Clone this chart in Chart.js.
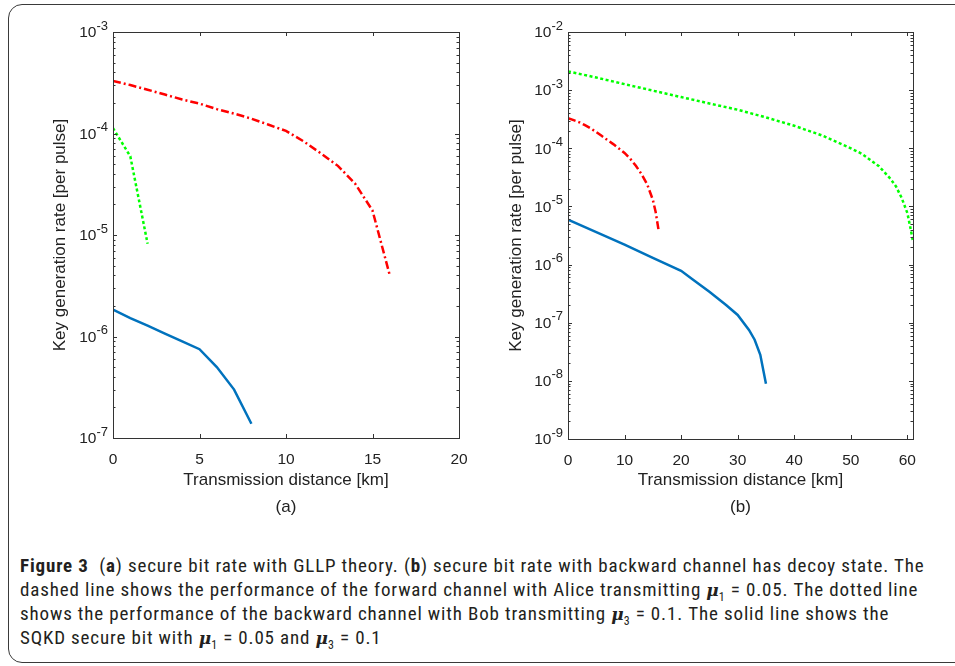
<!DOCTYPE html>
<html>
<head>
<meta charset="utf-8">
<script src="https://cdn.jsdelivr.net/npm/chart.js@4.4.1/dist/chart.umd.min.js"></script>
<style>
body{margin:0;width:955px;height:666px;overflow:hidden;background:#fff;position:relative;font-family:'Liberation Sans',Arial,sans-serif}
#frame{position:absolute;left:8px;top:4px;width:1000px;height:657px;border:1.5px solid #3a3a3a;border-radius:14px}
#panelA{position:absolute;left:0;top:0}
#panelB{position:absolute;left:490px;top:0}
#caption{position:absolute;left:20px;top:554px;font-family:'Roboto Condensed','DejaVu Sans Condensed',sans-serif;font-size:19px;letter-spacing:0.85px;line-height:24px;color:#231f20;white-space:nowrap}
#caption b{font-weight:bold}
#caption i{font-family:'DejaVu Serif',serif;font-weight:bold;font-size:17px;letter-spacing:0}
#caption sub{font-size:12px;line-height:0}
</style>
</head>
<body>
<div id="frame"></div>
<canvas id="panelA" width="490" height="520"></canvas>
<canvas id="panelB" width="465" height="520"></canvas>
<div id="caption">
<b>Figure 3</b>&nbsp; (<b>a</b>) secure bit rate with GLLP theory. (<b>b</b>) secure bit rate with backward channel has decoy state. The<br>
dashed line shows the performance of the forward channel with Alice transmitting <i>μ</i><sub>1</sub> = 0.05. The dotted line<br>
shows the performance of the backward channel with Bob transmitting <i>μ</i><sub>3</sub> = 0.1. The solid line shows the<br>
SQKD secure bit with <i>μ</i><sub>1</sub> = 0.05 and <i>μ</i><sub>3</sub> = 0.1
</div>
<script>
// panel (a) - GLLP theory
var aFwdX = [0,1,2,3,4,5,6,7,8,9,10,11,12,13,14,15,16]
var aFwdY = [3.3e-4,3.0e-4,2.7e-4,2.42e-4,2.16e-4,1.97e-4,1.74e-4,1.57e-4,1.4e-4,1.22e-4,1.06e-4,8.4e-5,6.4e-5,4.8e-5,3.2e-5,1.74e-5,4e-6]
var aBwdX = [0,1,2]
var aBwdY = [1.13e-4,5.96e-5,8.2e-6]
var aSqkdX = [0,1,2,3,4,5,6,7,8]
var aSqkdY = [1.84e-6,1.52e-6,1.28e-6,1.07e-6,8.95e-7,7.5e-7,5.0e-7,3.0e-7,1.38e-7]
var aDecades = [-7,-6,-5,-4,-3]

// panel (b) - backward channel with decoy state
var bFwdX = [0,1,2,3,4,5,6,7,8,9,10,11,12,13,14,15,15.5,16]
var bFwdY = [3.3e-4,3.05e-4,2.8e-4,2.5e-4,2.2e-4,1.9e-4,1.62e-4,1.38e-4,1.18e-4,9.9e-5,8.3e-5,6.6e-5,5.0e-5,3.6e-5,2.4e-5,1.3e-5,8e-6,4e-6]
var bBwdX = [0,5,10,15,20,25,30,35,40,45,50,52,55,57,58,59,60,60.5,61]
var bBwdY = [2.1e-3,1.65e-3,1.27e-3,9.8e-4,7.6e-4,5.9e-4,4.6e-4,3.4e-4,2.44e-4,1.65e-4,1.0e-4,8e-5,4.9e-5,3.0e-5,2.2e-5,1.4e-5,7.7e-6,4.5e-6,2.5e-6]
var bSqkdX = [0,5,10,15,20,22,25,28,30,32,33,34,35]
var bSqkdY = [5.9e-6,3.6e-6,2.2e-6,1.3e-6,7.8e-7,5.6e-7,3.4e-7,2.0e-7,1.36e-7,7.5e-8,5.1e-8,2.8e-8,8.9e-9]
var bDecades = [-9,-8,-7,-6,-5,-4,-3,-2]

var axisColor = '#333333'
var textColor = '#222222'
var fontFam = "'Liberation Sans', Arial, sans-serif"

function pts(xs, ys){
    var out = []
    for(var i=0;i<xs.length;i++){
        out.push({x: xs[i], y: ys[i]})
    }
    return out
}

// matlab-like box, inward ticks and 10^n labels
var matlabAxes = {
    id: 'matlabAxes',
    afterDraw: function(chart, args, opts){
        var ctx = chart.ctx
        var ca = chart.chartArea
        var xs = chart.scales.x
        var ys = chart.scales.y
        ctx.save()
        ctx.strokeStyle = axisColor
        ctx.lineWidth = 1
        ctx.strokeRect(Math.round(ca.left)+0.5, Math.round(ca.top)+0.5, Math.round(ca.right-ca.left), Math.round(ca.bottom-ca.top))
        ctx.beginPath()
        xs.ticks.forEach(function(t){
            var px = Math.round(xs.getPixelForValue(t.value))+0.5
            ctx.moveTo(px, ca.bottom); ctx.lineTo(px, ca.bottom-4)
            ctx.moveTo(px, ca.top); ctx.lineTo(px, ca.top+4)
        })
        opts.decades.forEach(function(e, k){
            for(var m=1;m<10;m++){
                if(k==opts.decades.length-1 && m>1) break
                var py = Math.round(ys.getPixelForValue(m*Math.pow(10,e)))+0.5
                var len = m==1 ? 4 : 2.5
                ctx.moveTo(ca.left, py); ctx.lineTo(ca.left+len, py)
                ctx.moveTo(ca.right, py); ctx.lineTo(ca.right-len, py)
            }
        })
        ctx.stroke()

        ctx.fillStyle = textColor
        ctx.textBaseline = 'middle'
        opts.decades.forEach(function(e){
            var py = ys.getPixelForValue(Math.pow(10,e))
            var ex = '-' + Math.abs(e)
            ctx.font = '13px ' + fontFam
            var ew = ctx.measureText(ex).width
            var xr = ca.left - 5
            ctx.textAlign = 'left'
            ctx.fillText(ex, xr-ew, py-6)
            ctx.font = '15.5px ' + fontFam
            ctx.textAlign = 'right'
            ctx.fillText('10', xr-ew, py+1)
        })
        ctx.restore()
    }
}

function makePanel(id, cfg){
    var ctx = document.getElementById(id)
    var chart = new Chart(ctx, {
        type: 'line',
        data: {
            datasets: [{
                label: 'forward',
                data: pts(cfg.fwdX, cfg.fwdY),
                borderColor: '#ff0000',
                borderWidth: 2.5,
                borderDash: [8,3,2,3],
                pointRadius: 0,
                fill: false
            },{
                label: 'backward',
                data: pts(cfg.bwdX, cfg.bwdY),
                borderColor: '#00ff00',
                borderWidth: 2.5,
                borderDash: [3,2.5],
                pointRadius: 0,
                fill: false
            },{
                label: 'SQKD',
                data: pts(cfg.sqkdX, cfg.sqkdY),
                borderColor: '#0072bd',
                borderWidth: 2.5,
                pointRadius: 0,
                fill: false
            }]
        },
        options: {
            responsive: false,
            animation: false,
            events: [],
            layout: {padding: {left: 0, top: 32, right: cfg.padRight, bottom: 0}},
            plugins: {
                legend: {display: false},
                tooltip: {enabled: false},
                matlabAxes: {decades: cfg.decades}
            },
            scales: {
                x: {
                    type: 'linear',
                    min: 0,
                    max: cfg.xMax,
                    grid: {display: false},
                    border: {display: false},
                    ticks: {stepSize: cfg.xStep, includeBounds: false, maxRotation: 0, padding: 4, color: textColor, font: {family: fontFam, size: 15.5}},
                    title: {display: true, text: ['Transmission distance [km]', cfg.tag], color: textColor, font: {family: fontFam, size: 17, lineHeight: 1.55}, padding: {top: 0, bottom: 0}},
                    afterFit: function(s){ s.height = cfg.xHeight }
                },
                y: {
                    type: 'logarithmic',
                    min: Math.pow(10, cfg.decades[0]),
                    max: Math.pow(10, cfg.decades[cfg.decades.length-1]),
                    grid: {display: false},
                    border: {display: false},
                    ticks: {display: false},
                    title: {display: true, text: 'Key generation rate [per pulse]', color: textColor, font: {family: fontFam, size: 17}, padding: {top: cfg.yTitlePad, bottom: 0}},
                    afterFit: function(s){ s.width = cfg.yWidth }
                }
            }
        },
        plugins: [matlabAxes]
    })
    return chart
}

makePanel('panelA', {fwdX: aFwdX, fwdY: aFwdY, bwdX: aBwdX, bwdY: aBwdY, sqkdX: aSqkdX, sqkdY: aSqkdY,
    decades: aDecades, xMax: 20, xStep: 5, tag: '(a)', padRight: 31, xHeight: 82, yWidth: 113, yTitlePad: 50})
makePanel('panelB', {fwdX: bFwdX, fwdY: bFwdY, bwdX: bBwdX, bwdY: bBwdY, sqkdX: bSqkdX, sqkdY: bSqkdY,
    decades: bDecades, xMax: 61, xStep: 10, tag: '(b)', padRight: 42, xHeight: 81, yWidth: 78, yTitlePad: 16})
</script>
</body>
</html>
